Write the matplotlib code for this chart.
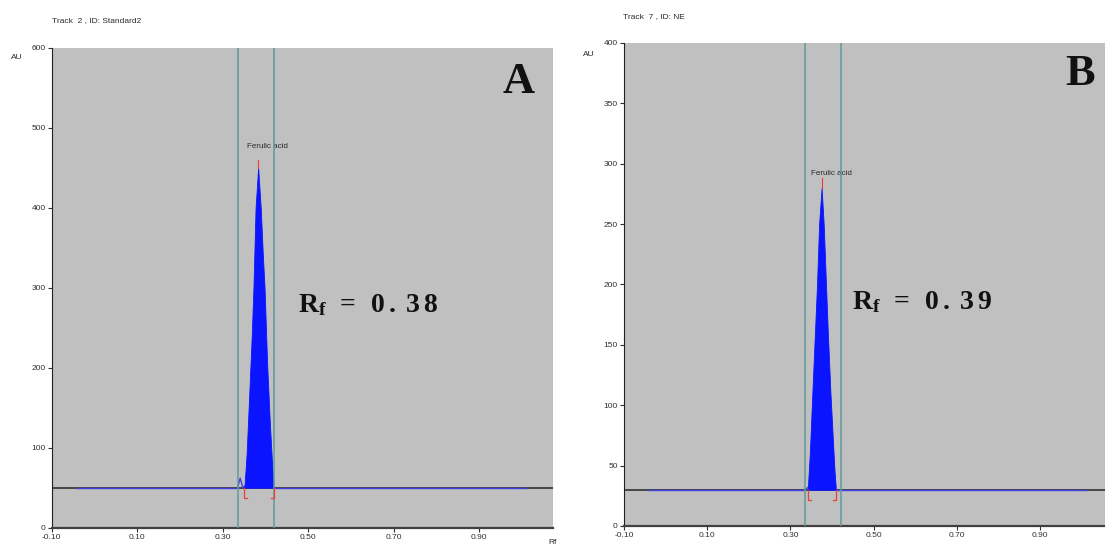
import matplotlib.pyplot as plt

# panel A - standard
a_title = 'Track  2 , ID: Standard2'
a_baseline = 50
a_peak_rf = [0.351, 0.356, 0.362, 0.368, 0.372, 0.377, 0.383, 0.389, 0.394, 0.398, 0.404, 0.410, 0.415, 0.419]
a_peak_au = [52, 92, 165, 240, 300, 400, 450, 400, 340, 300, 205, 135, 85, 52]
a_bump_rf = [0.335, 0.338, 0.341, 0.344, 0.347, 0.351]
a_bump_au = [50, 56, 62, 56, 50, 52]
a_peak_top = 0.383
a_peak_mark = [450, 460]
a_bounds = [0.335, 0.42]
a_rf_text = '0.38'

# panel B - sample NE
b_title = 'Track  7 , ID: NE'
b_baseline = 30
b_peak_rf = [0.342, 0.347, 0.353, 0.359, 0.364, 0.369, 0.375, 0.380, 0.385, 0.390, 0.396, 0.402, 0.406, 0.409]
b_peak_au = [32, 62, 112, 160, 200, 250, 280, 250, 205, 160, 112, 72, 46, 32]
b_bump_rf = [0.336, 0.342]
b_bump_au = [30, 32]
b_peak_top = 0.375
b_peak_mark = [280, 288]
b_bounds = [0.336, 0.421]
b_rf_text = '0.39'

x_ticks = [-0.10, 0.10, 0.30, 0.50, 0.70, 0.90]
x_labels = ['-0.10', '0.10', '0.30', '0.50', '0.70', '0.90']
signal_range = [-0.04, 1.01]
x_lim = (-0.10, 1.073)

plt.rcParams['font.family'] = ['Liberation Sans', 'DejaVu Sans']
plt.rcParams['mathtext.fontset'] = 'custom'
plt.rcParams['mathtext.bf'] = 'Liberation Serif:bold'
plt.rcParams['mathtext.rm'] = 'Liberation Serif:bold'

GRAY = '#c0c0c0'
TEAL = '#5f9b9b'
BLUE = '#0a14ff'
RED = '#e8403a'
TXT = '#2a2a2a'


def draw_panel(ax, baseline, peak_rf, peak_au, bump_rf, bump_au, peak_top, peak_mark,
               bounds, ymax, ystep, letter, rf_text, rf_pos, label_pos, letter_pos):
    ax.set_facecolor(GRAY)
    ax.set_xlim(*x_lim)
    ax.set_ylim(0, ymax)

    # baseline, then the blue scan on top
    ax.plot(x_lim, [baseline, baseline], color='#303030', lw=1.2, zorder=1)
    ax.plot([signal_range[0], bump_rf[0]], [baseline, baseline], color='#4040e0', lw=1.0, zorder=2)
    ax.plot(bump_rf, bump_au, color='#4040e0', lw=1.0, zorder=2)
    ax.plot([peak_rf[-1], signal_range[1]], [baseline, baseline], color='#4040e0', lw=1.0, zorder=2)
    ax.fill_between(peak_rf, baseline, peak_au, color=BLUE, lw=0.6, zorder=3)

    for b in bounds:
        ax.axvline(b, color=TEAL, lw=1.1, zorder=4)

    # peak marker and integration brackets
    ax.plot([peak_top, peak_top], peak_mark, color=RED, lw=0.8, zorder=5)
    dy = ymax * 0.021
    dx = 0.007
    ax.plot([peak_rf[0], peak_rf[0], peak_rf[0] + dx], [baseline, baseline - dy, baseline - dy],
            color=RED, lw=0.9, zorder=5)
    ax.plot([peak_rf[-1], peak_rf[-1], peak_rf[-1] - dx], [baseline, baseline - dy, baseline - dy],
            color=RED, lw=0.9, zorder=5)

    ax.text(label_pos[0], label_pos[1], 'Ferulic acid', fontsize=5.8, ha='center', va='center', color=TXT)
    num = r'\,'.join(rf_text)
    ax.text(rf_pos[0], rf_pos[1], r'$\mathbf{R_f}\ \mathbf{=}\ \mathbf{' + num + '}$', fontsize=20,
            ha='left', va='baseline', color='#111111')
    ax.text(letter_pos[0], letter_pos[1], letter, fontsize=32, fontweight='bold',
            family='Liberation Serif', ha='left', va='baseline', color='#111111')

    ax.set_xticks(x_ticks)
    ax.set_xticklabels(x_labels)
    ax.set_yticks(range(0, ymax + 1, ystep))
    ax.tick_params(labelsize=6, length=3, width=0.8, colors='#303030', pad=1.5)
    for s in ['top', 'right']:
        ax.spines[s].set_visible(False)
    ax.spines['left'].set_color('#202020')
    ax.spines['bottom'].set_color('#404040')
    ax.spines['bottom'].set_linewidth(1.6)


fig = plt.figure(figsize=(11.05, 5.49), dpi=100)
ax_a = fig.add_axes([0.0468, 0.0388, 0.4537, 0.8743])
ax_b = fig.add_axes([0.5647, 0.0419, 0.4416, 0.8798])

draw_panel(ax_a, a_baseline, a_peak_rf, a_peak_au, a_bump_rf, a_bump_au, a_peak_top, a_peak_mark,
           a_bounds, 600, 100, 'A', a_rf_text, (0.476, 270), (0.405, 477), (0.954, 543))
draw_panel(ax_b, b_baseline, b_peak_rf, b_peak_au, b_bump_rf, b_bump_au, b_peak_top, b_peak_mark,
           b_bounds, 400, 50, 'B', b_rf_text, (0.448, 180), (0.398, 292), (0.960, 365))

fig.text(0.047, 0.963, a_title, fontsize=6, va='center', color=TXT)
fig.text(0.564, 0.970, b_title, fontsize=6, va='center', color=TXT)
fig.text(0.010, 0.895, 'AU', fontsize=6, va='center', color=TXT)
fig.text(0.528, 0.900, 'AU', fontsize=6, va='center', color=TXT)
fig.text(0.496, 0.011, 'Rf', fontsize=6, va='center', color=TXT)

fig.savefig('out.png', dpi=100)
